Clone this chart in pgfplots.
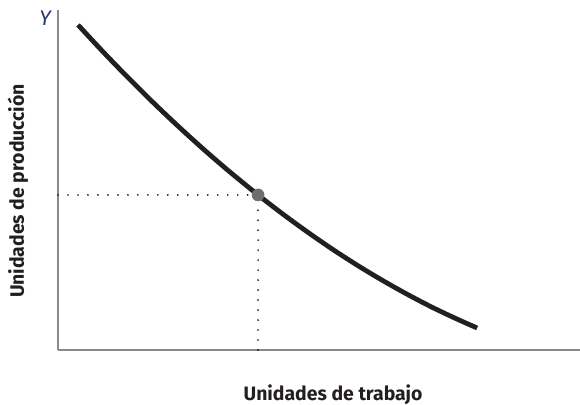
\documentclass[border=0pt]{standalone}
\usepackage{pgfplots}
\pgfplotsset{compat=1.18}
\usepackage{fontspec}
\setmainfont{Fira Sans}

\definecolor{curvecol}{HTML}{231F20}
\definecolor{axiscol}{HTML}{8A8A8A}
\definecolor{dotcol}{HTML}{6D6E70}
\definecolor{ycol}{HTML}{2E3A6E}

% data in pixel units measured from the axis corner
\pgfplotstableread{
x y
20 325
45 298.1
70 272.3
95 247.5
120 223.8
145 201.1
170 179.5
200 155
225 135.7
250 117.5
275 100.3
300 84.2
325 69.2
350 55.2
375 42.2
400 30.4
419 22
}\curvedata

\begin{document}
\begin{tikzpicture}[x=0.025cm,y=0.025cm]
\path[use as bounding box] (0,0) rectangle (580,405);
\begin{axis}[
    at={(58,55)}, anchor=south west,
    scale only axis,
    width=13.05cm, height=8.5cm,
    xmin=0, xmax=522, ymin=0, ymax=340,
    axis lines=left,
    axis line style={axiscol, line width=1.2pt, -},
    ticks=none,
    clip=false,
]
\addplot[black, line width=1.3pt, line cap=round, dash pattern=on 0pt off 7.1pt] coordinates {(0,155) (200,155)};
\addplot[black, line width=1.3pt, line cap=round, dash pattern=on 0pt off 7.1pt] coordinates {(200,0) (200,155)};
\addplot[curvecol, line width=3.4pt, smooth, no marks] table {\curvedata};
\addplot[only marks, mark=*, mark size=4.3pt, dotcol, mark options={draw=dotcol, fill=dotcol}] coordinates {(200,155)};
\end{axis}
\node[font=\bfseries\fontsize{13.8}{16}\selectfont, text=curvecol] at (333,10) {Unidades de trabajo};
\node[font=\bfseries\fontsize{13.8}{16}\selectfont, text=curvecol, rotate=90] at (18,214) {Unidades de producción};
\node[font=\itshape\fontsize{15}{17}\selectfont, text=ycol] at (45,387) {Y};
\node[font=\itshape\fontsize{15}{17}\selectfont, text=ycol, anchor=west] at (576,40) {L};
\end{tikzpicture}
\end{document}
